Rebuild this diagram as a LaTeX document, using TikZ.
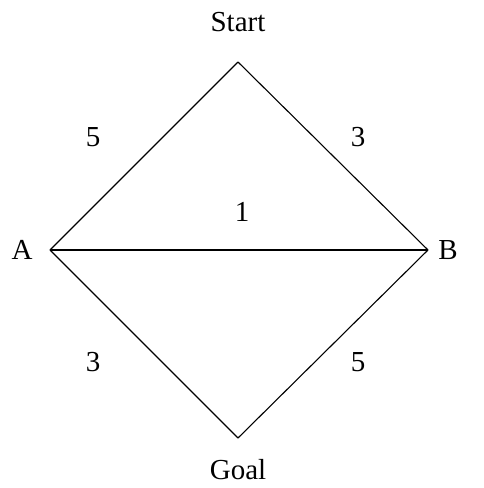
\documentclass[tikz,border=0pt]{standalone}
\usepackage{fontspec}
\setmainfont{Liberation Serif}
\usetikzlibrary{positioning}

\begin{document}
\begin{tikzpicture}[
  x=1pt, y=-1pt,
  lbl/.style={inner sep=0pt, font=\fontsize{29}{34}\selectfont},
  edge/.style={draw=black, line width=1.1pt, line join=miter}
]
\useasboundingbox (0,0) rectangle (484,488);
% Corners
\coordinate (start) at (238,62);
\coordinate (a)     at (50,250);
\coordinate (b)     at (428,250);
\coordinate (goal)  at (238,438);
% Corner labels
\node[lbl] (startlbl) at (238,22)  {Start};
\node[lbl] (albl)     at (22,250)  {A};
\node[lbl] (blbl)     at (448,250) {B};
\node[lbl] (goallbl)  at (238,470) {Goal};
% Edges
\draw[edge] (start) -- (a);
\draw[edge] (start) -- (b);
\draw[edge] (a)     -- (b);
\draw[edge] (a)     -- (goal);
\draw[edge] (b)     -- (goal);
% Weights
\node[lbl] (wsa) at (93,137)  {5};
\node[lbl] (wsb) at (358,137) {3};
\node[lbl] (wab) at (242,212) {1};
\node[lbl] (wag) at (93,362)  {3};
\node[lbl] (wbg) at (358,362) {5};
\end{tikzpicture}
\end{document}
